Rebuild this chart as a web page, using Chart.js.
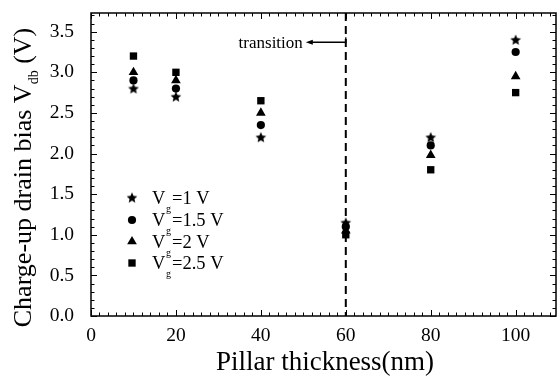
<!DOCTYPE html>
<html>
<head>
<meta charset="utf-8">
<script src="https://cdn.jsdelivr.net/npm/chart.js@4.4.0/dist/chart.umd.min.js"></script>
<style>
  html, body { margin: 0; padding: 0; background: #fff; }
</style>
</head>
<body>
<canvas id="myChart" width="557" height="376"></canvas>
<script>
const thickness = [10, 20, 40, 60, 80, 100];
const vg1 = [2.8, 2.7, 2.2, 1.15, 2.2, 3.4];
const vg15 = [2.9, 2.8, 2.35, 1.1, 2.1, 3.25];
const vg2 = [3.0, 2.9, 2.5, 1.05, 1.98, 2.95];
const vg25 = [3.2, 3.0, 2.65, 1.0, 1.8, 2.75];
const seriesLabels = ['=1 V', '=1.5 V', '=2 V', '=2.5 V'];
const xTicks = [0, 20, 40, 60, 80, 100];
const yTicks = [0, 0.5, 1.0, 1.5, 2.0, 2.5, 3.0, 3.5];
const transitionX = 60;
const serif = "'Liberation Serif', 'Times New Roman', serif";

// filled five point star, chart.js only has the asterisk kind
const starImg = document.createElement('canvas');
starImg.width = 12;
starImg.height = 12;
(function () {
  const c = starImg.getContext('2d');
  c.fillStyle = '#000';
  c.beginPath();
  for (let i = 0; i < 10; i++) {
    const r = i % 2 === 0 ? 5.6 : 2.6;
    const a = -Math.PI / 2 + i * Math.PI / 5;
    const px = 6 + r * Math.cos(a), py = 6.4 + r * Math.sin(a);
    i === 0 ? c.moveTo(px, py) : c.lineTo(px, py);
  }
  c.closePath();
  c.fill();
})();

const styles = [starImg, 'circle', 'triangle', 'rect'];
const radii = [6, 4.1, 5.6, 5.2];

const toPoints = ys => thickness.map((x, i) => ({ x: x, y: ys[i] }));

const drawMarker = (ctx, style, x, y, r) => {
  ctx.fillStyle = '#000';
  if (style === starImg) {
    ctx.drawImage(starImg, x - 6, y - 6.4);
    return;
  }
  ctx.beginPath();
  if (style === 'circle') {
    ctx.arc(x, y, r, 0, Math.PI * 2);
  } else if (style === 'triangle') {
    for (let i = 0; i < 3; i++) {
      const a = -Math.PI / 2 + i * 2 * Math.PI / 3;
      const px = x + r * Math.cos(a), py = y + r * Math.sin(a);
      i === 0 ? ctx.moveTo(px, py) : ctx.lineTo(px, py);
    }
    ctx.closePath();
  } else {
    const s = r * Math.SQRT1_2;
    ctx.rect(x - s, y - s, 2 * s, 2 * s);
  }
  ctx.fill();
};

const decorations = {
  id: 'decorations',
  afterDraw(chart) {
    const ctx = chart.ctx;
    const xs = chart.scales.x, ys = chart.scales.y;
    const a = chart.chartArea;
    ctx.save();
    ctx.strokeStyle = '#000';
    ctx.fillStyle = '#000';

    // frame
    ctx.lineWidth = 1.5;
    ctx.strokeRect(a.left, a.top, a.right - a.left, a.bottom - a.top);

    // inward ticks on all four sides
    ctx.lineWidth = 1;
    ctx.beginPath();
    for (let v = 0; v <= xs.max; v += 2) {
      const px = Math.round(xs.getPixelForValue(v)) + 0.5;
      const len = v % 20 === 0 ? 6 : 3.5;
      ctx.moveTo(px, a.bottom); ctx.lineTo(px, a.bottom - len);
      ctx.moveTo(px, a.top); ctx.lineTo(px, a.top + len);
    }
    for (let k = 0; k <= Math.floor(ys.max * 10); k++) {
      const py = Math.round(ys.getPixelForValue(k / 10)) + 0.5;
      const len = k % 5 === 0 ? 6 : 3.5;
      ctx.moveTo(a.left, py); ctx.lineTo(a.left + len, py);
      ctx.moveTo(a.right, py); ctx.lineTo(a.right - len, py);
    }
    ctx.stroke();

    // transition dashed line
    const tx = xs.getPixelForValue(transitionX);
    ctx.lineWidth = 2;
    ctx.setLineDash([8, 5]);
    ctx.beginPath();
    ctx.moveTo(tx, a.top);
    ctx.lineTo(tx, a.bottom);
    ctx.stroke();
    ctx.setLineDash([]);

    // transition label with arrow
    const ay = ys.getPixelForValue(3.37);
    ctx.lineWidth = 1.3;
    ctx.beginPath();
    ctx.moveTo(tx, ay - 5);
    ctx.lineTo(tx, ay);
    ctx.lineTo(tx - 34, ay);
    ctx.stroke();
    ctx.beginPath();
    ctx.moveTo(tx - 40, ay);
    ctx.lineTo(tx - 33, ay - 2.5);
    ctx.lineTo(tx - 33, ay + 2.5);
    ctx.closePath();
    ctx.fill();
    ctx.font = '17px ' + serif;
    ctx.textAlign = 'right';
    ctx.textBaseline = 'middle';
    ctx.fillText('transition', tx - 43, ay + 1);

    // legend
    const lx = a.left + 41;
    const rows = [198, 220, 241.5, 263];
    rows.forEach((ry, i) => {
      drawMarker(ctx, styles[i], lx, ry, radii[i]);
      ctx.textAlign = 'left';
      ctx.textBaseline = 'alphabetic';
      ctx.font = '18.5px ' + serif;
      ctx.fillText('V', lx + 20, ry + 6);
      ctx.font = '10px ' + serif;
      ctx.fillText('g', lx + 34, ry + 14);
      ctx.font = '18.5px ' + serif;
      ctx.fillText(seriesLabels[i], lx + 40, ry + 6);
    });

    // axis titles
    ctx.font = '27px ' + serif;
    ctx.textAlign = 'center';
    ctx.textBaseline = 'alphabetic';
    ctx.fillText('Pillar thickness(nm)', 325, 370);

    ctx.translate(31, 177.5);
    ctx.rotate(-Math.PI / 2);
    const p1 = 'Charge-up drain bias V', p2 = 'db', p3 = ' (V)';
    ctx.font = '26px ' + serif;
    const w1 = ctx.measureText(p1).width, w3 = ctx.measureText(p3).width;
    ctx.font = '14px ' + serif;
    const w2 = ctx.measureText(p2).width;
    let sx = -(w1 + w2 + w3) / 2;
    ctx.textAlign = 'left';
    ctx.font = '26px ' + serif;
    ctx.fillText(p1, sx, 0);
    sx += w1;
    ctx.font = '14px ' + serif;
    ctx.fillText(p2, sx, 7);
    sx += w2;
    ctx.font = '26px ' + serif;
    ctx.fillText(p3, sx, 0);
    ctx.restore();
  }
};

const allSeries = [vg1, vg15, vg2, vg25];

new Chart(document.getElementById('myChart').getContext('2d'), {
  type: 'scatter',
  data: {
    datasets: allSeries.map((ys, i) => ({
      label: 'Vg' + seriesLabels[i],
      data: toPoints(ys),
      pointStyle: styles[i],
      pointRadius: radii[i],
      pointHoverRadius: radii[i],
      backgroundColor: '#000',
      borderColor: '#000',
      borderWidth: 0
    }))
  },
  options: {
    responsive: false,
    animation: false,
    devicePixelRatio: 1,
    layout: { autoPadding: false, padding: { top: 13, right: 1, left: 0, bottom: 0 } },
    plugins: { legend: { display: false }, tooltip: { enabled: false } },
    scales: {
      x: {
        type: 'linear',
        min: 0,
        max: 109.5,
        afterBuildTicks: s => { s.ticks = xTicks.map(v => ({ value: v })); },
        afterFit: s => { s.height = 60; s.paddingLeft = 0; s.paddingRight = 0; },
        grid: { display: false },
        border: { display: false },
        ticks: {
          color: '#000',
          padding: 0,
          maxRotation: 0,
          font: { family: serif, size: 19.5 },
          callback: v => String(v)
        }
      },
      y: {
        type: 'linear',
        min: 0,
        max: 3.73,
        afterBuildTicks: s => { s.ticks = yTicks.map(v => ({ value: v })); },
        afterFit: s => { s.width = 91; s.paddingTop = 0; s.paddingBottom = 0; },
        grid: { display: false },
        border: { display: false },
        ticks: {
          color: '#000',
          padding: 9,
          font: { family: serif, size: 19.5 },
          callback: v => v.toFixed(1)
        }
      }
    }
  },
  plugins: [decorations]
});
</script>
</body>
</html>
